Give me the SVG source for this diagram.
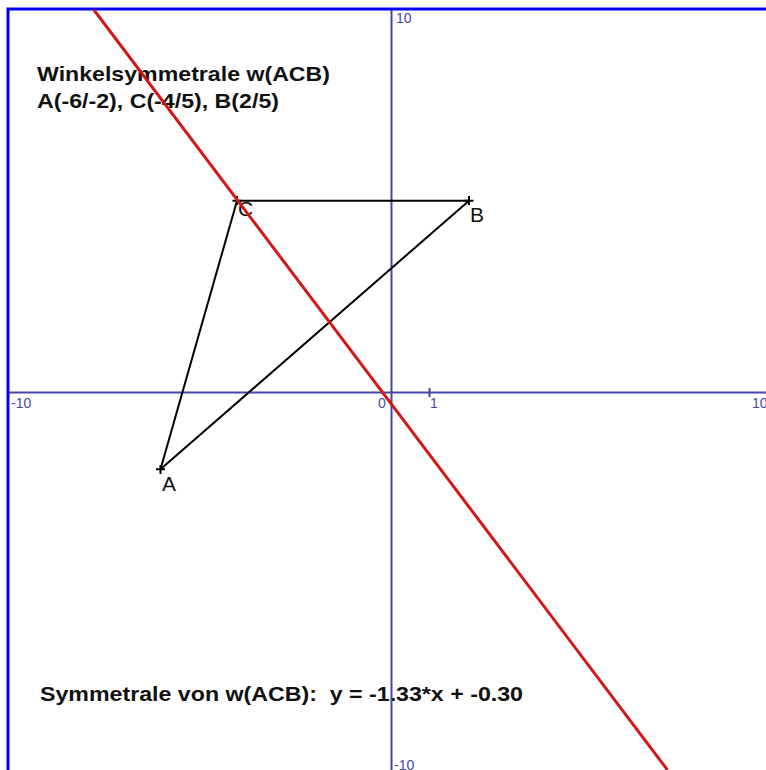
<svg xmlns="http://www.w3.org/2000/svg" width="766" height="770" viewBox="0 0 766 770">
  <style>
    .title { font-family: "Liberation Sans", Arial, sans-serif; font-weight: bold; font-size: 21px; fill: #111; }
    .axlbl { font-family: "Liberation Sans", Arial, sans-serif; font-size: 14px; fill: #4646a6; }
    .vlbl { font-family: "Liberation Sans", Arial, sans-serif; font-size: 21px; fill: #111; }
    .axis { stroke: #4646a6; stroke-width: 2; fill: none; }
    .side { stroke: #000; stroke-width: 2; fill: none; }
    .cross { stroke: #000; stroke-width: 2; }
  </style>
  <rect x="0" y="0" width="766" height="770" fill="#fff"/>
  <g id="texts">
    <text class="title" x="37" y="81" textLength="293" lengthAdjust="spacingAndGlyphs">Winkelsymmetrale w(ACB)</text>
    <text class="title" x="37" y="108" textLength="242" lengthAdjust="spacingAndGlyphs">A(-6/-2), C(-4/5), B(2/5)</text>
    <text class="title" x="40" y="701" textLength="483" lengthAdjust="spacingAndGlyphs" xml:space="preserve">Symmetrale von w(ACB):  y = -1.33*x + -0.30</text>
  </g>
  <g id="axes">
    <line class="axis" x1="8" y1="392.5" x2="766" y2="392.5"/>
    <line class="axis" x1="391.5" y1="9" x2="391.5" y2="770"/>
    <line class="axis" x1="429.5" y1="388" x2="429.5" y2="397"/>
    <text class="axlbl" x="11" y="408">-10</text>
    <text class="axlbl" x="752" y="408">10</text>
    <text class="axlbl" x="396" y="23">10</text>
    <text class="axlbl" x="394" y="770">-10</text>
    <text class="axlbl" x="378" y="408">0</text>
    <text class="axlbl" x="430" y="408">1</text>
  </g>
  <rect x="8" y="9" width="770" height="770" fill="none" stroke="#0000f0" stroke-width="3"/>
  <g id="connectors">
    <line class="side" x1="160.5" y1="469.3" x2="237" y2="200.7"/>
    <line class="side" x1="237" y1="200.7" x2="469" y2="200.7"/>
    <line class="side" x1="160.5" y1="469.3" x2="469" y2="200.7"/>
  </g>
  <g id="A">
    <path class="cross" d="M156 469.3H165M160.5 465V474"/>
    <text class="vlbl" x="162" y="491">A</text>
  </g>
  <g id="C">
    <path class="cross" d="M232.5 200.7H241.5M237 196V205"/>
    <text class="vlbl" x="238" y="216">C</text>
  </g>
  <g id="B">
    <path class="cross" d="M464.5 200.7H473.5M469 196V205"/>
    <text class="vlbl" x="470" y="222">B</text>
  </g>
  <g id="symmetrale">
    <line x1="94" y1="10" x2="667.5" y2="770" stroke="#d01818" stroke-width="3"/>
  </g>
</svg>
